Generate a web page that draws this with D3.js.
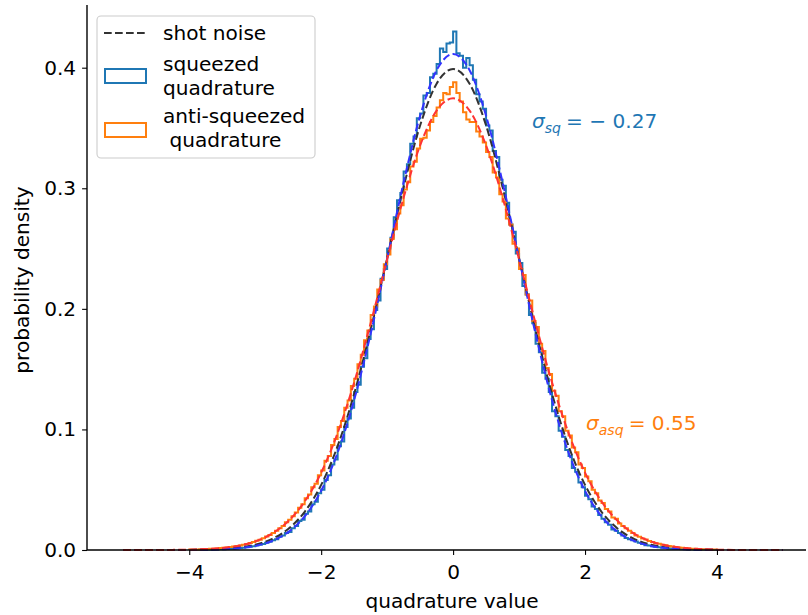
<!DOCTYPE html>
<html>
<head>
<meta charset="utf-8">
<script src="https://cdn.jsdelivr.net/npm/d3@7"></script>
<style>
  html, body { margin: 0; padding: 0; background: #fff; }
  svg { display: block; font-family: "DejaVu Sans", sans-serif; }
</style>
</head>
<body>
<svg id="chart" width="808" height="615"></svg>
<script>
// ---------------- data ----------------
// histogram: bins of width 0.05 starting at -4.0
const binStart = -4.0;
const binWidth = 0.05;
const squeezedHist = [
0.0001,0.0001,0.0001,0.0002,0.0002,0.0003,0.0003,0.0004,0.0005,0.0006,
0.0007,0.0008,0.0010,0.0012,0.0014,0.0016,0.0019,0.0023,0.0026,0.0032,
0.0037,0.0043,0.0050,0.0060,0.0068,0.008,0.009,0.011,0.012,0.014,
0.015,0.018,0.020,0.024,0.025,0.030,0.032,0.038,0.040,0.047,
0.050,0.058,0.062,0.071,0.075,0.086,0.090,0.102,0.109,0.118,
0.131,0.137,0.152,0.159,0.175,0.183,0.199,0.207,0.225,0.233,
0.250,0.259,0.276,0.290,0.296,0.314,0.320,0.337,0.343,0.358,
0.362,0.377,0.379,0.392,0.395,0.403,0.416,0.413,0.420,0.421,
0.430,0.412,0.410,0.400,0.408,0.402,0.390,0.378,0.372,0.366,
0.352,0.348,0.331,0.326,0.307,0.302,0.288,0.270,0.264,0.246,
0.238,0.219,0.212,0.195,0.188,0.171,0.164,0.147,0.142,0.131,
0.115,0.111,0.099,0.094,0.083,0.078,0.068,0.065,0.056,0.052,
0.045,0.042,0.036,0.034,0.029,0.026,0.023,0.021,0.017,0.016,
0.014,0.012,0.010,0.009,0.008,0.007,0.006,0.005,0.004,0.0037,
0.0031,0.0027,0.0022,0.0019,0.0016,0.0013,0.0011,0.0010,0.0008,0.0007,
0.0006,0.0005,0.0004,0.0003,0.0003,0.0002,0.0002,0.0001,0.0001,0.0001
];
const antiSqueezedHist = [
0.0004,0.0004,0.0005,0.0006,0.0007,0.0008,0.0010,0.0011,0.0013,0.0016,
0.0018,0.0021,0.0025,0.0028,0.0033,0.0038,0.0044,0.0050,0.0058,0.0066,
0.0076,0.0086,0.0097,0.0112,0.0125,0.014,0.016,0.018,0.020,0.023,
0.025,0.028,0.031,0.035,0.038,0.043,0.046,0.052,0.055,0.062,
0.066,0.074,0.078,0.087,0.092,0.102,0.107,0.118,0.124,0.136,
0.142,0.154,0.162,0.174,0.182,0.195,0.202,0.216,0.224,0.237,
0.245,0.258,0.266,0.279,0.286,0.299,0.305,0.318,0.322,0.333,
0.341,0.342,0.348,0.355,0.360,0.367,0.373,0.379,0.378,0.384,
0.388,0.379,0.372,0.363,0.357,0.355,0.355,0.347,0.343,0.338,
0.330,0.326,0.313,0.309,0.295,0.289,0.275,0.270,0.254,0.250,
0.233,0.228,0.212,0.207,0.190,0.185,0.171,0.165,0.151,0.146,
0.132,0.128,0.115,0.111,0.099,0.095,0.085,0.081,0.071,0.068,
0.061,0.057,0.050,0.047,0.041,0.039,0.034,0.032,0.027,0.026,
0.022,0.020,0.018,0.016,0.014,0.012,0.011,0.0095,0.0087,0.0074,
0.0067,0.0057,0.0051,0.0043,0.0039,0.0033,0.0029,0.0025,0.0021,0.0018,
0.0016,0.0013,0.0011,0.0010,0.0008,0.0007,0.0006,0.0005,0.0004,0.0004
];
// dashed curves sampled at x = -5 .. 5 step 0.25
const curveX = [-5,-4.75,-4.5,-4.25,-4,-3.75,-3.5,-3.25,-3,-2.75,-2.5,-2.25,-2,-1.75,-1.5,-1.25,-1,-0.75,-0.5,-0.25,
  0,0.25,0.5,0.75,1,1.25,1.5,1.75,2,2.25,2.5,2.75,3,3.25,3.5,3.75,4,4.25,4.5,4.75,5];
const shotNoise = [0,0,0,0,0.0001,0.0004,0.0009,0.0020,0.0044,0.0091,0.0175,0.0317,0.0540,0.0863,0.1295,0.1826,0.2420,0.3011,0.3521,0.3867,
  0.3989,0.3867,0.3521,0.3011,0.2420,0.1826,0.1295,0.0863,0.0540,0.0317,0.0175,0.0091,0.0044,0.0020,0.0009,0.0004,0.0001,0,0,0,0];
const squeezedFit = [0,0,0,0,0.0001,0.0002,0.0006,0.0015,0.0034,0.0074,0.0148,0.0279,0.0491,0.0808,0.1244,0.1793,0.2418,0.3050,0.3601,0.3979,
  0.4113,0.3979,0.3601,0.3050,0.2418,0.1793,0.1244,0.0808,0.0491,0.0279,0.0148,0.0074,0.0034,0.0015,0.0006,0.0002,0.0001,0,0,0,0];
const antiSqueezedFit = [0,0,0,0.0001,0.0003,0.0008,0.0017,0.0036,0.0071,0.0134,0.0238,0.0402,0.0642,0.0971,0.1389,0.1881,0.2411,0.2923,0.3355,0.3644,
  0.3746,0.3644,0.3355,0.2923,0.2411,0.1881,0.1389,0.0971,0.0642,0.0402,0.0238,0.0134,0.0071,0.0036,0.0017,0.0008,0.0003,0.0001,0,0,0];
const xTicks = [-4,-2,0,2,4];
const yTicks = [0.0,0.1,0.2,0.3,0.4];
const legendLabels = ["shot noise", ["squeezed","quadrature"], ["anti-squeezed","\u00a0quadrature"]];
const sqLabel = {sym:"σ", sub:"sq", rest:"= − 0.27"};
const asqLabel = {sym:"σ", sub:"asq", rest:"= 0.55"};

// ---------------- layout ----------------
const FS = 20.1;
const LINE = 23.5;
const blue = "#1f77b4", orange = "#ff7f0e";
const svg = d3.select("#chart");
const x = d3.scaleLinear().domain([-5.55, 5.35]).range([87, 806]);
const y = d3.scaleLinear().domain([0, 0.452]).range([550, 5]);

// histogram step paths
function stepPoints(vals) {
  const pts = [[binStart, 0]];
  vals.forEach((v, i) => {
    const a = binStart + i * binWidth, b = a + binWidth;
    pts.push([a, v]); pts.push([b, v]);
  });
  pts.push([binStart + vals.length * binWidth, 0]);
  return pts;
}
const lineXY = d3.line().x(d => x(d[0])).y(d => y(d[1]));
const plot = svg.append("g");
plot.append("path").attr("d", lineXY(stepPoints(squeezedHist)))
  .attr("fill", "none").attr("stroke", blue).attr("stroke-width", 2).attr("stroke-linejoin", "miter");
plot.append("path").attr("d", lineXY(stepPoints(antiSqueezedHist)))
  .attr("fill", "none").attr("stroke", orange).attr("stroke-width", 2).attr("stroke-linejoin", "miter");

const curveLine = d3.line().x((d, i) => x(curveX[i])).y(d => y(d)).curve(d3.curveMonotoneX);
const dash = "7.7,3.3";
plot.append("path").attr("d", curveLine(shotNoise)).attr("fill", "none")
  .attr("stroke", "#333333").attr("stroke-width", 2).attr("stroke-dasharray", dash);
plot.append("path").attr("d", curveLine(squeezedFit)).attr("fill", "none")
  .attr("stroke", "#3333ff").attr("stroke-width", 2).attr("stroke-dasharray", dash);
plot.append("path").attr("d", curveLine(antiSqueezedFit)).attr("fill", "none")
  .attr("stroke", "#ff3333").attr("stroke-width", 2).attr("stroke-dasharray", dash);

// axes
const xAxis = d3.axisBottom(x).tickValues(xTicks).tickSize(4.9).tickPadding(6)
  .tickFormat(d => d < 0 ? "−" + Math.abs(d) : String(d));
const yAxis = d3.axisLeft(y).tickValues(yTicks).tickSize(4.9).tickPadding(6)
  .tickFormat(d3.format(".1f"));
const gx = svg.append("g").attr("transform", "translate(0,550)").call(xAxis);
const gy = svg.append("g").attr("transform", "translate(87,0)").call(yAxis);
[gx, gy].forEach(g => {
  g.selectAll("path.domain").attr("stroke", "#000").attr("stroke-width", 1.4);
  g.selectAll(".tick line").attr("stroke", "#000").attr("stroke-width", 1.1);
  g.selectAll(".tick text").attr("fill", "#000").style("font-size", FS + "px")
    .style("font-family", "'DejaVu Sans', sans-serif");
});
gx.select("path.domain").attr("d", "M87,0H806");
gy.select("path.domain").attr("d", "M0,5V550");
gx.selectAll(".tick text").attr("dy", "0.9em");

svg.append("text").attr("x", 452).attr("y", 608).attr("text-anchor", "middle")
  .style("font-size", FS + "px").text("quadrature value");
svg.append("text").attr("transform", "translate(29,280) rotate(-90)").attr("text-anchor", "middle")
  .style("font-size", FS + "px").text("probability density");

// annotations
function mathLabel(lbl, px, py, color) {
  const t = svg.append("text").attr("x", px).attr("y", py).attr("fill", color).style("font-size", FS + "px");
  t.append("tspan").style("font-style", "italic").text(lbl.sym);
  t.append("tspan").style("font-style", "italic").style("font-size", (FS * 0.7) + "px").attr("dy", 4.5).text(lbl.sub);
  t.append("tspan").attr("dy", -4.5).attr("dx", 5).text(lbl.rest);
}
mathLabel(sqLabel, 532, 128, blue);
mathLabel(asqLabel, 586, 430, orange);

// legend
const lg = svg.append("g");
lg.append("rect").attr("x", 97).attr("y", 16).attr("width", 218).attr("height", 142)
  .attr("rx", 4).attr("fill", "#fff").attr("fill-opacity", 0.8).attr("stroke", "#cccccc").attr("stroke-width", 1.1);
lg.append("line").attr("x1", 104).attr("x2", 145).attr("y1", 33).attr("y2", 33)
  .attr("stroke", "#333333").attr("stroke-width", 2).attr("stroke-dasharray", dash);
lg.append("text").attr("x", 163).attr("y", 40).style("font-size", FS + "px").text(legendLabels[0]);
lg.append("rect").attr("x", 105).attr("y", 69).attr("width", 41).attr("height", 14)
  .attr("fill", "none").attr("stroke", blue).attr("stroke-width", 2);
legendLabels[1].forEach((s, i) => {
  lg.append("text").attr("x", 163).attr("y", 71 + i * LINE).style("font-size", FS + "px").text(s);
});
lg.append("rect").attr("x", 105).attr("y", 123).attr("width", 41).attr("height", 14)
  .attr("fill", "none").attr("stroke", orange).attr("stroke-width", 2);
legendLabels[2].forEach((s, i) => {
  lg.append("text").attr("x", 163).attr("y", 123 + i * LINE).style("font-size", FS + "px").text(s);
});
</script>
</body>
</html>
